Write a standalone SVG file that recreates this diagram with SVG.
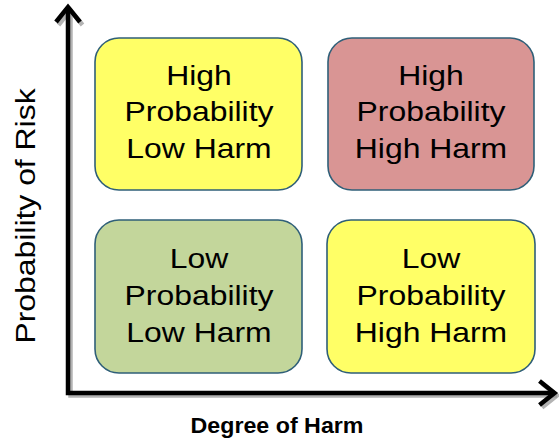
<svg xmlns="http://www.w3.org/2000/svg" width="559" height="440" viewBox="0 0 559 440">
<style>
.box{stroke:#2F5F78;stroke-width:1.6}
.t{font-family:"Liberation Sans",Arial,sans-serif;font-size:27.5px;fill:#000;text-anchor:middle}
.ax{fill:none;stroke:#000;stroke-width:4.5;stroke-linecap:butt;stroke-linejoin:miter}
.sh{fill:none;stroke:#999;stroke-width:4.5;opacity:0.75}
</style>
<rect width="559" height="440" fill="#fff"/>
<g id="connectors">
<path class="sh" d="M70.5 10 V395.5 H557"/>
<path class="sh" d="M58.5 25 L70.5 10 L82.5 25 M542 383.5 L557 395.5 L542 407.5"/>
<path class="ax" d="M68 7 V393 H554.5"/>
<path class="ax" d="M56 22 L68 7 L80 22 M539.5 381 L554.5 393 L539.5 405"/>
</g>
<g id="hpl">
<rect class="box" x="95" y="38" width="207" height="152" rx="24" fill="#FFFF66"/>
<text class="t" transform="translate(199 84.5) scale(1.16 1)">High</text>
<text class="t" transform="translate(199 121) scale(1.16 1)">Probability</text>
<text class="t" transform="translate(199 157.5) scale(1.16 1)">Low Harm</text>
</g>
<g id="hph">
<rect class="box" x="328" y="38" width="206" height="152" rx="24" fill="#D99594"/>
<text class="t" transform="translate(431 84.5) scale(1.16 1)">High</text>
<text class="t" transform="translate(431 121) scale(1.16 1)">Probability</text>
<text class="t" transform="translate(431 157.5) scale(1.16 1)">High Harm</text>
</g>
<g id="lpl">
<rect class="box" x="95" y="220" width="207" height="153" rx="24" fill="#C3D69B"/>
<text class="t" transform="translate(199 267.5) scale(1.16 1)">Low</text>
<text class="t" transform="translate(199 305) scale(1.16 1)">Probability</text>
<text class="t" transform="translate(199 342) scale(1.16 1)">Low Harm</text>
</g>
<g id="lph">
<rect class="box" x="327" y="220" width="208" height="153" rx="24" fill="#FFFF66"/>
<text class="t" transform="translate(431 267.5) scale(1.16 1)">Low</text>
<text class="t" transform="translate(431 305) scale(1.16 1)">Probability</text>
<text class="t" transform="translate(431 342) scale(1.16 1)">High Harm</text>
</g>
<text class="t" transform="translate(35 216) rotate(-90) scale(1.16 1)">Probability of Risk</text>
<text x="277" y="432.5" font-family="'Liberation Sans',Arial,sans-serif" font-weight="bold" font-size="21.5" text-anchor="middle" textLength="173" lengthAdjust="spacingAndGlyphs">Degree of Harm</text>
</svg>
